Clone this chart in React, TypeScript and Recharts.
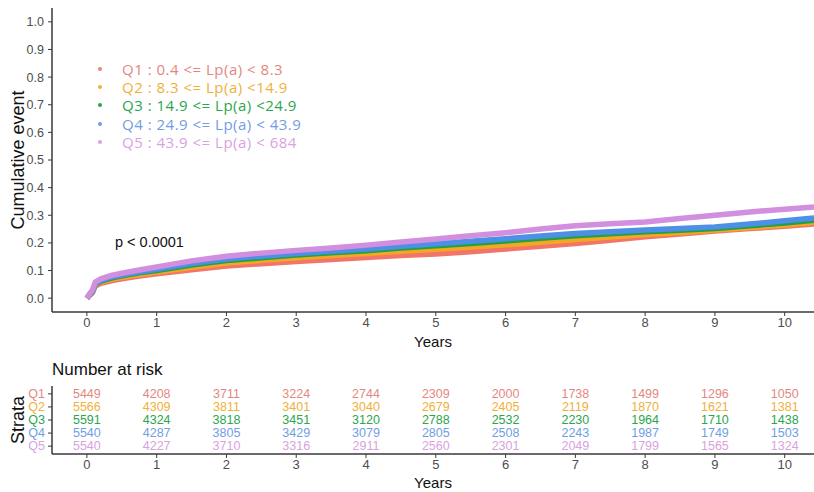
import { LineChart, Line, XAxis, YAxis, Label, ScatterChart, Scatter } from 'recharts';

// follow-up time grid (years) for the cumulative event curves
const years = [0, 0.03, 0.08, 0.12, 0.2, 0.35, 0.5, 0.75, 1, 1.5, 2, 2.5, 3, 3.5, 4, 4.5, 5, 5.5, 6, 6.5, 7, 7.5, 8, 8.5, 9, 9.5, 10, 10.42];

const q1Curve = [0, 0.008, 0.02, 0.044, 0.054, 0.063, 0.07, 0.08, 0.088, 0.103, 0.116, 0.125, 0.133, 0.14, 0.147, 0.154, 0.16, 0.168, 0.178, 0.188, 0.198, 0.21, 0.222, 0.232, 0.243, 0.252, 0.26, 0.268];
const q2Curve = [0, 0.009, 0.022, 0.047, 0.058, 0.068, 0.076, 0.086, 0.095, 0.112, 0.127, 0.137, 0.146, 0.154, 0.162, 0.17, 0.177, 0.185, 0.193, 0.202, 0.212, 0.221, 0.23, 0.238, 0.247, 0.256, 0.265, 0.275];
const q3Curve = [0, 0.01, 0.024, 0.05, 0.062, 0.073, 0.081, 0.092, 0.1, 0.12, 0.136, 0.146, 0.156, 0.164, 0.172, 0.182, 0.19, 0.198, 0.207, 0.217, 0.226, 0.233, 0.24, 0.246, 0.252, 0.262, 0.272, 0.282];
const q4Curve = [0, 0.01, 0.025, 0.052, 0.064, 0.076, 0.084, 0.095, 0.105, 0.125, 0.142, 0.152, 0.162, 0.17, 0.178, 0.188, 0.197, 0.206, 0.215, 0.225, 0.234, 0.24, 0.247, 0.252, 0.258, 0.268, 0.28, 0.29];
const q5Curve = [0, 0.012, 0.03, 0.058, 0.07, 0.082, 0.09, 0.102, 0.113, 0.135, 0.152, 0.163, 0.173, 0.182, 0.192, 0.203, 0.214, 0.226, 0.237, 0.25, 0.262, 0.269, 0.276, 0.288, 0.3, 0.312, 0.322, 0.33];

// number at risk table
const riskYears = [0, 1, 2, 3, 4, 5, 6, 7, 8, 9, 10];
const q1Risk = [5449, 4208, 3711, 3224, 2744, 2309, 2000, 1738, 1499, 1296, 1050];
const q2Risk = [5566, 4309, 3811, 3401, 3040, 2679, 2405, 2119, 1870, 1621, 1381];
const q3Risk = [5591, 4324, 3818, 3451, 3120, 2788, 2532, 2230, 1964, 1710, 1438];
const q4Risk = [5540, 4287, 3805, 3429, 3079, 2805, 2508, 2243, 1987, 1749, 1503];
const q5Risk = [5540, 4227, 3710, 3316, 2911, 2560, 2301, 2049, 1799, 1565, 1324];

const strata = ['Q1', 'Q2', 'Q3', 'Q4', 'Q5'];
const legendLabels = [
  'Q1 : 0.4 <= Lp(a) < 8.3',
  'Q2 : 8.3 <= Lp(a) <14.9',
  'Q3 : 14.9 <= Lp(a) <24.9',
  'Q4 : 24.9 <= Lp(a) < 43.9',
  'Q5 : 43.9 <= Lp(a) < 684',
];
const yTicks = [0, 0.1, 0.2, 0.3, 0.4, 0.5, 0.6, 0.7, 0.8, 0.9, 1.0];

const LINE_COLORS = ['#F2756A', '#F5A623', '#1FA244', '#4E90E6', '#D28FDF'];
const TEXT_COLORS = ['#E5877F', '#F0B03A', '#2AA64E', '#6F9EE2', '#D9A2E2'];

const AXIS_FONT = '"Liberation Sans", Arial, sans-serif';
const AXIS_COLOR = '#3a3a3a';
const TICK_COLOR = '#4d4d4d';

const curves = [q1Curve, q2Curve, q3Curve, q4Curve, q5Curve];
const risks = [q1Risk, q2Risk, q3Risk, q4Risk, q5Risk];

const curveData = years.map((t, i) => {
  const row: Record<string, number> = { t };
  strata.forEach((s, k) => {
    row[s] = curves[k][i];
  });
  return row;
});

const riskData = risks.map((arr, k) =>
  arr.map((n, i) => ({ x: riskYears[i], y: k + 1, n }))
);

function CurveLegend() {
  return (
    <div
      style={{
        position: 'absolute',
        left: 98,
        top: 60,
        fontFamily: '"Open Sans", sans-serif',
        fontSize: 15,
        letterSpacing: 0.5,
        lineHeight: '18.2px',
        whiteSpace: 'pre',
      }}
    >
      {legendLabels.map((label, i) => (
        <div key={label} style={{ display: 'flex', alignItems: 'center', height: 18.2, color: TEXT_COLORS[i] }}>
          <span
            style={{ display: 'inline-block', width: 4, height: 4, borderRadius: 2, background: TEXT_COLORS[i], marginRight: 20 }}
          />
          <span>{label}</span>
        </div>
      ))}
    </div>
  );
}

function RotatedTitle(props: any) {
  const { viewBox, text } = props;
  const x = viewBox.x + 6;
  const y = viewBox.y + viewBox.height / 2;
  return (
    <text
      x={x}
      y={y}
      transform={`rotate(-90 ${x} ${y})`}
      textAnchor="middle"
      dominantBaseline="central"
      fontFamily={AXIS_FONT}
      fontSize={18}
      fill="#111"
    >
      {text}
    </text>
  );
}

function StrataTick(props: any) {
  const { x, y, payload } = props;
  const k = payload.value - 1;
  return (
    <text x={x} y={y} textAnchor="end" dominantBaseline="central" fontFamily={AXIS_FONT} fontSize={12.5} fill={TEXT_COLORS[k]}>
      {strata[k]}
    </text>
  );
}

function RiskText(props: any) {
  const { cx, cy, payload, fill } = props;
  return (
    <text x={cx} y={cy} textAnchor="middle" dominantBaseline="central" fontFamily={AXIS_FONT} fontSize={12.5} fill={fill}>
      {payload.n}
    </text>
  );
}

export default function App() {
  return (
    <div style={{ position: 'absolute', left: 0, top: 0, width: 814, height: 492, background: '#fff' }}>
      <LineChart width={814} height={355} data={curveData} margin={{ top: 8, right: 0, bottom: 3, left: 12 }}>
        <XAxis
          type="number"
          dataKey="t"
          domain={[-0.5, 10.42]}
          ticks={riskYears}
          interval={0}
          allowDataOverflow
          height={40}
          tickSize={4}
          tick={{ fill: TICK_COLOR, fontSize: 13, fontFamily: AXIS_FONT }}
          axisLine={{ stroke: AXIS_COLOR, strokeWidth: 1.5 }}
          tickLine={{ stroke: AXIS_COLOR }}
        >
          <Label value="Years" position="insideBottom" offset={5} fill="#111" fontSize={15} fontFamily={AXIS_FONT} />
        </XAxis>
        <YAxis
          type="number"
          domain={[-0.05, 1.05]}
          ticks={yTicks}
          interval={0}
          allowDataOverflow
          width={40}
          tickSize={4}
          tickMargin={4}
          tickFormatter={(v: number) => v.toFixed(1)}
          tick={{ fill: TICK_COLOR, fontSize: 12.5, fontFamily: AXIS_FONT }}
          axisLine={{ stroke: AXIS_COLOR, strokeWidth: 1.5 }}
          tickLine={{ stroke: AXIS_COLOR }}
        >
          <Label content={<RotatedTitle text="Cumulative event" />} />
        </YAxis>
        {strata.map((s, k) => (
          <Line
            key={s}
            dataKey={s}
            type="linear"
            stroke={LINE_COLORS[k]}
            strokeWidth={5.5}
            dot={false}
            isAnimationActive={false}
          />
        ))}
      </LineChart>
      <CurveLegend />
      <div
        style={{
          position: 'absolute',
          left: 115,
          top: 234,
          fontFamily: AXIS_FONT,
          fontSize: 14.5,
          color: '#111',
        }}
      >
        p &lt; 0.0001
      </div>
      <div
        style={{
          position: 'absolute',
          left: 52,
          top: 360,
          fontFamily: AXIS_FONT,
          fontSize: 17,
          color: '#111',
        }}
      >
        Number at risk
      </div>
      <div style={{ position: 'absolute', left: 0, top: 355 }}>
        <ScatterChart width={814} height={137} margin={{ top: 31, right: 0, bottom: 2, left: 12 }}>
          <XAxis
            type="number"
            dataKey="x"
            domain={[-0.5, 10.42]}
            ticks={riskYears}
            interval={0}
            allowDataOverflow
            height={36}
            tickSize={4}
            tick={{ fill: TICK_COLOR, fontSize: 13, fontFamily: AXIS_FONT }}
            axisLine={{ stroke: AXIS_COLOR, strokeWidth: 1.5 }}
            tickLine={{ stroke: AXIS_COLOR }}
          >
            <Label value="Years" position="insideBottom" offset={2} fill="#111" fontSize={15} fontFamily={AXIS_FONT} />
          </XAxis>
          <YAxis
            type="number"
            dataKey="y"
            domain={[0.4, 5.6]}
            reversed
            ticks={[1, 2, 3, 4, 5]}
            interval={0}
            width={40}
            tickSize={4}
            tickMargin={3}
            tick={<StrataTick />}
            axisLine={{ stroke: AXIS_COLOR, strokeWidth: 1.5 }}
            tickLine={{ stroke: AXIS_COLOR }}
          >
            <Label content={<RotatedTitle text="Strata" />} />
          </YAxis>
          {strata.map((s, k) => (
            <Scatter
              key={s}
              name={s}
              data={riskData[k]}
              fill={TEXT_COLORS[k]}
              shape={<RiskText />}
              isAnimationActive={false}
            />
          ))}
        </ScatterChart>
      </div>
    </div>
  );
}
